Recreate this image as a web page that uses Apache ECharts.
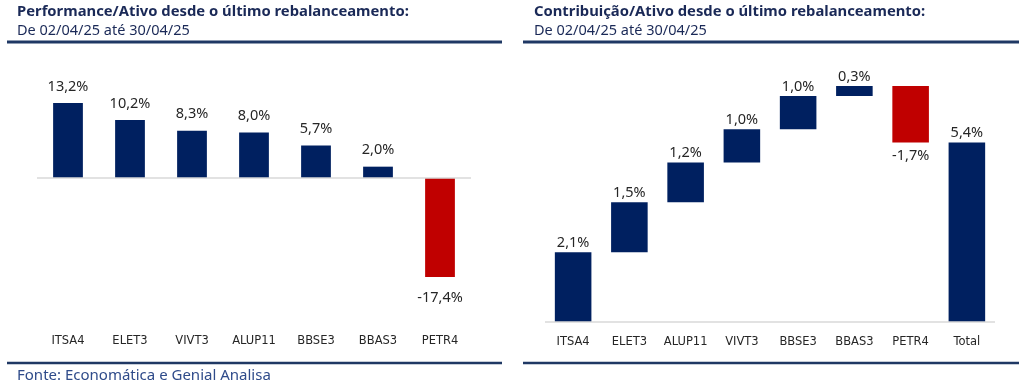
<!DOCTYPE html>
<html>
<head>
<meta charset="utf-8">
<script src="https://cdn.jsdelivr.net/npm/echarts@6/dist/echarts.min.js"></script>
<style>html,body{margin:0;padding:0;background:#fff}#c{width:1024px;height:388px}</style>
</head>
<body>
<div id="c"></div>
<script>
// Left chart: performance per asset
const perfCategories = ['ITSA4', 'ELET3', 'VIVT3', 'ALUP11', 'BBSE3', 'BBAS3', 'PETR4'];
const perfValues = [13.2, 10.2, 8.3, 8.0, 5.7, 2.0, -17.4];
// Right chart: contribution per asset (waterfall)
const contribCategories = ['ITSA4', 'ELET3', 'ALUP11', 'VIVT3', 'BBSE3', 'BBAS3', 'PETR4', 'Total'];
const contribValues = [2.1, 1.5, 1.2, 1.0, 1.0, 0.3, -1.7];
const totalValue = 5.4;

const titles = ['Performance/Ativo desde o último rebalanceamento:', 'Contribuição/Ativo desde o último rebalanceamento:'];
const subtitle = 'De 02/04/25 até 30/04/25';
const source = 'Fonte: Economática e Genial Analisa';

const NAVY = '#002060', RED = '#c00000';
const fmt = v => v.toFixed(1).replace('.', ',') + '%';

// waterfall helpers built from the data
const wfBase = [], wfBar = [];
let cum = 0;
contribValues.forEach(v => {
  const next = cum + v;
  wfBase.push(Math.min(cum, next));
  wfBar.push({value: Math.abs(v), raw: v, itemStyle: {color: v < 0 ? RED : NAVY},
    label: {position: v < 0 ? 'bottom' : 'top', distance: v < 0 ? 6 : 2}});
  cum = next;
});
wfBase.push(0);
wfBar.push({value: totalValue, raw: totalValue, itemStyle: {color: NAVY}, label: {position: 'top', distance: 2}});

const chart = echarts.init(document.getElementById('c'), null, {renderer: 'canvas'});
const labelFont = {fontFamily: 'Noto Sans', fontSize: 14.5, color: '#262626'};
const catLabel = {fontFamily: 'DejaVu Sans', fontSize: 11.5, color: '#262626'};

chart.setOption({
  animation: false,
  grid: [
    {left: 37, width: 434, top: 87, height: 239},
    {left: 545, width: 450, top: 56, height: 266}
  ],
  xAxis: [
    {gridIndex: 0, type: 'category', data: perfCategories, axisLine: {show: false}, axisTick: {show: false},
     axisLabel: Object.assign({margin: 9, interval: 0}, catLabel)},
    {gridIndex: 1, type: 'category', data: contribCategories, axisLine: {show: false}, axisTick: {show: false},
     axisLabel: Object.assign({margin: 14, interval: 0}, catLabel)}
  ],
  yAxis: [
    {gridIndex: 0, type: 'value', min: -26, max: 16, show: false, splitLine: {show: false}},
    {gridIndex: 1, type: 'value', min: 0, max: 8, show: false, splitLine: {show: false}}
  ],
  series: [
    {type: 'bar', xAxisIndex: 0, yAxisIndex: 0, barWidth: '48%',
     data: perfValues.map(v => ({value: v, itemStyle: {color: v < 0 ? RED : NAVY},
       label: {position: v < 0 ? 'bottom' : 'top', distance: v < 0 ? 13 : 9}})),
     label: Object.assign({show: true, formatter: p => fmt(p.value)}, labelFont),
     markLine: {silent: true, symbol: 'none', label: {show: false},
       lineStyle: {color: '#d9d9d9', width: 1.5, type: 'solid'}, data: [{yAxis: 0}]}},
    {type: 'bar', xAxisIndex: 1, yAxisIndex: 1, stack: 'wf', barWidth: '65%',
     itemStyle: {color: 'transparent'}, data: wfBase, label: {show: false}, silent: true},
    {type: 'bar', xAxisIndex: 1, yAxisIndex: 1, stack: 'wf', barWidth: '65%',
     data: wfBar,
     label: Object.assign({show: true, formatter: p => fmt(p.data.raw)}, labelFont),
     markLine: {silent: true, symbol: 'none', label: {show: false},
       lineStyle: {color: '#d9d9d9', width: 1.5, type: 'solid'}, data: [{yAxis: 0}]}}
  ],
  graphic: [
    {type: 'text', left: 17, top: 4, style: {text: titles[0], font: 'bold 14.8px "Noto Sans"', fill: '#1a2957'}},
    {type: 'text', left: 17, top: 23, style: {text: subtitle, font: '14.5px "Noto Sans"', fill: '#1a2957'}},
    {type: 'text', left: 534, top: 4, style: {text: titles[1], font: 'bold 14.8px "Noto Sans"', fill: '#1a2957'}},
    {type: 'text', left: 534, top: 23, style: {text: subtitle, font: '14.5px "Noto Sans"', fill: '#1a2957'}},
    {type: 'line', shape: {x1: 7, y1: 42, x2: 502, y2: 42}, style: {stroke: '#1f3864', lineWidth: 3}},
    {type: 'line', shape: {x1: 523, y1: 42, x2: 1019, y2: 42}, style: {stroke: '#1f3864', lineWidth: 3}},
    {type: 'line', shape: {x1: 7, y1: 363, x2: 502, y2: 363}, style: {stroke: '#1f3864', lineWidth: 2.5}},
    {type: 'line', shape: {x1: 523, y1: 363, x2: 1019, y2: 363}, style: {stroke: '#1f3864', lineWidth: 2.5}},
    {type: 'text', left: 17, top: 368, style: {text: source, font: '15px "Noto Sans"', fill: '#2f4b8a'}}
  ]
});
</script>
</body>
</html>
